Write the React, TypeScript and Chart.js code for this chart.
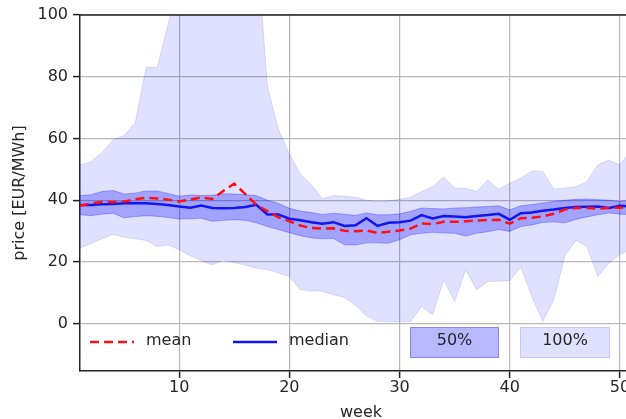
import { useEffect, useRef } from 'react';
import { Chart, registerables } from 'chart.js';

Chart.register(...registerables);

// Weekly electricity price statistics
const weeks = [
  1, 2, 3, 4, 5, 6, 7, 8, 9, 10, 11, 12, 13, 14, 15, 16, 17, 18, 19, 20, 21, 22, 23, 24, 25, 26,
  27, 28, 29, 30, 31, 32, 33, 34, 35, 36, 37, 38, 39, 40, 41, 42, 43, 44, 45, 46, 47, 48, 49, 50, 51, 52,
];

const meanPrice = [
  38.2, 39, 39.4, 39.4, 39.6, 40.3, 40.8, 40.6, 40.2, 39.6, 40.2, 40.9, 40.4, 43, 45.4, 42, 38.5, 36.5, 34.5, 33.2,
  31.8, 31, 30.8, 30.9, 30.1, 30, 30.2, 29.4, 29.8, 30.2, 30.8, 32.5, 32.3, 33, 33, 33.2, 33.4, 33.6, 33.7, 32.4,
  34.2, 34.3, 34.8, 35.6, 37, 37.5, 37.5, 37.3, 37.5, 37.6, 37.8, 38,
];

const medianPrice = [
  38.5, 38.5, 38.7, 38.8, 39, 39, 39, 38.8, 38.5, 38, 37.6, 38.3, 37.5, 37.4, 37.5, 37.8, 38.5, 35.4, 35.4, 34,
  33.5, 32.9, 32.4, 32.9, 31.7, 31.9, 34.2, 31.7, 32.7, 32.9, 33.4, 35.2, 34.1, 34.9, 34.7, 34.5, 34.9, 35.2, 35.6, 33.7,
  35.8, 36, 36.6, 37, 37.5, 37.8, 37.9, 38, 37.5, 38.2, 38, 38.3,
];

// inter-quartile range (50%)
const q25Price = [
  35.3, 35, 35.5, 35.8, 34.3, 34.7, 35, 34.8, 34.4, 33.9, 34, 34.2, 33.2, 33.5, 33.7, 33.5, 32.7, 31.5, 30.5, 29.5,
  28.5, 27.8, 27.5, 27.6, 25.6, 25.5, 26.2, 26.2, 26.1, 27.2, 28.8, 29.3, 29.6, 29.4, 29.3, 28.4, 29.3, 29.8, 30.5, 29.9,
  31.5, 32, 32.8, 33, 32.7, 33.8, 34.6, 35.3, 35.9, 35.5, 35.3, 35.5,
];
const q75Price = [
  41.5, 41.8, 42.8, 43.2, 42, 42.3, 43, 43, 42.2, 41.3, 41.7, 41.5, 41.6, 42.1, 42, 41.8, 41.5, 40, 39, 37.4,
  36.5, 36, 35.4, 35.8, 35.5, 35.1, 35.9, 35.3, 35.3, 35.6, 36.4, 37.5, 37.3, 37.2, 37.5, 37.6, 37.8, 38, 38.2, 36.9,
  38.2, 38.6, 39.1, 39.6, 40, 40.3, 40.4, 40.2, 40, 39.6, 40, 40.2,
];

// full range (100%)
const minPrice = [
  24.5, 26, 27.5, 29, 28, 27.5, 27, 25, 25.5, 24, 22, 20.5, 19, 20.7, 19.8, 19, 18, 17.5, 16.5, 15.3,
  11, 10.7, 10.5, 9.4, 8.5, 6, 2.5, 0.8, 0.7, 0.7, 0.7, 5.6, 2.9, 14.2, 7.2, 17.5, 11, 13.7, 13.8, 14,
  18.3, 8.8, 0.7, 7.8, 22, 27, 25, 15.3, 19.6, 22.5, 24, 25,
];
const maxPrice = [
  51.5, 52.5, 55.5, 59.5, 61, 65, 83, 83, 97, 112, 130, 140, 138, 150, 145, 132, 125, 77, 63, 55,
  48.5, 45, 40.5, 41.5, 41.3, 41, 40, 39.6, 39.8, 40.3, 41, 42.8, 44.4, 47.5, 43.9, 43.9, 42.8, 46.6, 43.6, 45.5,
  47.2, 49.5, 49.3, 43.6, 44, 44.4, 46, 51.5, 53, 51.5, 56, 57,
];

const xTicks = [10, 20, 30, 40, 50];
const yTicks = [0, 20, 40, 60, 80, 100];

const legendLabels = ['mean', 'median', '50%', '100%'];

const FONT = 'DejaVu Sans';
const TEXT = '#262626';
const AXIS = '#222222';
const GRID = '#b8b8b8';
const MEAN_COLOR = '#ff1010';
const MEDIAN_COLOR = '#1414ee';
const BAND50 = 'rgba(0, 0, 255, 0.28)';
const BAND100 = 'rgba(0, 0, 255, 0.12)';

const pts = (vals: number[]) => weeks.map((w, i) => ({ x: w, y: vals[i] }));

const framePlugin = {
  id: 'frameAndLegend',
  afterDatasetsDraw(chart: any) {
    const { ctx } = chart;
    ctx.save();
    ctx.font = `16px "${FONT}"`;
    ctx.fillStyle = TEXT;
    ctx.textBaseline = 'middle';
    ctx.textAlign = 'left';
    const ly = 342;

    // mean entry
    ctx.strokeStyle = MEAN_COLOR;
    ctx.lineWidth = 2.5;
    ctx.setLineDash([9, 5]);
    ctx.beginPath();
    ctx.moveTo(90, ly);
    ctx.lineTo(134, ly);
    ctx.stroke();
    ctx.setLineDash([]);
    ctx.fillText(legendLabels[0], 146, ly - 1);

    // median entry
    ctx.strokeStyle = MEDIAN_COLOR;
    ctx.beginPath();
    ctx.moveTo(233, ly);
    ctx.lineTo(277, ly);
    ctx.stroke();
    ctx.fillText(legendLabels[1], 289, ly - 1);

    // band entries
    const box = (x: number, w: number, color: string, label: string) => {
      ctx.fillStyle = color;
      ctx.fillRect(x, 327, w, 31);
      ctx.strokeStyle = color;
      ctx.lineWidth = 1;
      ctx.strokeRect(x + 0.5, 327.5, w - 1, 30);
      ctx.fillStyle = TEXT;
      ctx.textAlign = 'center';
      ctx.fillText(label, x + w / 2, ly - 1);
      ctx.textAlign = 'left';
    };
    box(410, 89, BAND50, legendLabels[2]);
    box(520, 90, BAND100, legendLabels[3]);
    ctx.restore();
  },
  afterDraw(chart: any) {
    const { ctx, chartArea: a } = chart;
    ctx.save();
    ctx.strokeStyle = AXIS;
    ctx.lineWidth = 1.5;
    ctx.beginPath();
    ctx.moveTo(a.left, a.top);
    ctx.lineTo(a.right, a.top);
    ctx.lineTo(a.right, a.bottom);
    ctx.stroke();
    ctx.restore();
  },
};

export default function App() {
  const ref = useRef<HTMLCanvasElement>(null);

  useEffect(() => {
    const canvas = ref.current;
    if (!canvas) return;
    const line = (data: number[], color: string, width: number, order: number, extra: any = {}) => ({
      data: pts(data),
      borderColor: color,
      backgroundColor: color,
      borderWidth: width,
      pointRadius: 0,
      tension: 0,
      fill: false,
      order,
      ...extra,
    });

    const chart = new Chart(canvas, {
      type: 'line',
      data: {
        datasets: [
          line(meanPrice, MEAN_COLOR, 2.5, 0, { borderDash: [9, 5], label: 'mean' }),
          line(medianPrice, MEDIAN_COLOR, 2.5, 1, { label: 'median' }),
          line(q75Price, BAND50, 1, 2, { fill: '+1', label: '50%' }),
          line(q25Price, BAND50, 1, 3),
          line(maxPrice, BAND100, 1, 4, { fill: '+1', label: '100%' }),
          line(minPrice, BAND100, 1, 5),
        ],
      },
      plugins: [framePlugin],
      options: {
        animation: false,
        responsive: false,
        devicePixelRatio: 1,
        layout: { padding: { left: 0, right: 10, top: 15, bottom: 0 } },
        plugins: {
          legend: { display: false },
          tooltip: { enabled: false },
          filler: { propagate: false },
        },
        scales: {
          x: {
            type: 'linear',
            min: 1,
            max: 52,
            afterBuildTicks: (s: any) => {
              s.ticks = xTicks.map((v) => ({ value: v }));
            },
            afterFit: (s: any) => {
              s.height = 61;
            },
            ticks: { font: { family: FONT, size: 16 }, color: TEXT, padding: 0, maxRotation: 0 },
            grid: { color: GRID, lineWidth: 1.2, tickLength: 7, tickColor: AXIS, tickWidth: 1.5 },
            border: { color: AXIS, width: 1.5 },
            title: {
              display: true,
              text: 'week',
              font: { family: FONT, size: 16 },
              color: TEXT,
              padding: { top: 0, bottom: 10 },
            },
          },
          y: {
            type: 'linear',
            min: -15.3,
            max: 100,
            afterBuildTicks: (s: any) => {
              s.ticks = yTicks.map((v) => ({ value: v }));
            },
            afterFit: (s: any) => {
              s.width = 80;
            },
            ticks: { font: { family: FONT, size: 16 }, color: TEXT, padding: 5 },
            grid: { color: GRID, lineWidth: 1.2, tickLength: 7, tickColor: AXIS, tickWidth: 1.5 },
            border: { color: AXIS, width: 1.5 },
            title: {
              display: true,
              text: 'price [EUR/MWh]',
              font: { family: FONT, size: 16 },
              color: TEXT,
              padding: { top: 10, bottom: 0 },
            },
          },
        },
      },
    } as any);

    return () => chart.destroy();
  }, []);

  return (
    <div
      style={{
        position: 'fixed',
        left: 0,
        top: 0,
        width: 626,
        height: 419,
        overflow: 'hidden',
        background: '#ffffff',
      }}
    >
      <canvas ref={ref} width={652} height={432} style={{ display: 'block' }} />
    </div>
  );
}
